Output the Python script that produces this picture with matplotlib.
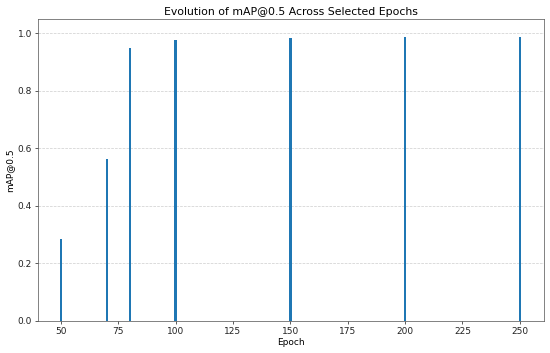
import matplotlib
matplotlib.use("Agg")
import matplotlib.pyplot as plt

epochs = [50, 70, 80, 100, 150, 200, 250]
map50 = [0.285, 0.563, 0.949, 0.978, 0.985, 0.987, 0.987]
xticks = [50, 75, 100, 125, 150, 175, 200, 225, 250]

DPI = 65
fig = plt.figure(figsize=(550 / DPI, 353 / DPI), dpi=DPI)
ax = fig.add_axes([0.069, 0.091, 0.92, 0.855])
ax.bar(epochs, map50, width=1.0, color="#1f77b4")
ax.set_xlim(40, 260.5)
ax.set_ylim(0, 1.05)
ax.set_xticks(xticks)
ax.set_xlabel("Epoch", labelpad=2)
ax.set_ylabel("mAP@0.5", labelpad=4)
ax.set_title("Evolution of mAP@0.5 Across Selected Epochs", pad=5)
ax.grid(axis="y", linestyle="--", alpha=0.6)
ax.set_axisbelow(True)
for s in ax.spines.values():
    s.set_color("#555555")
ax.tick_params(colors="#222222", length=3)
fig.savefig("out.png", dpi=DPI)
